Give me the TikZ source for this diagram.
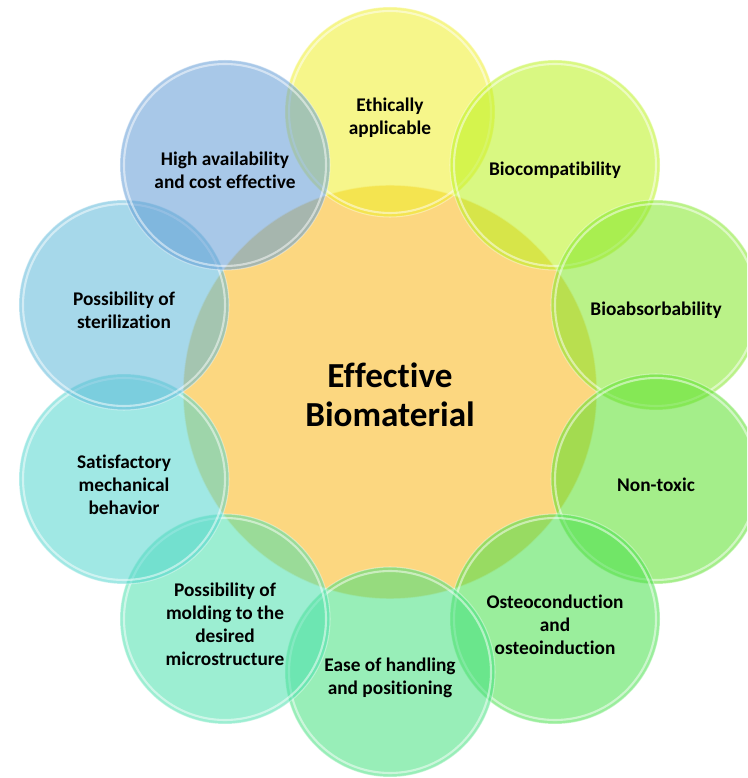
\documentclass[tikz,border=0pt]{standalone}
\usepackage{fontspec}
\setmainfont{Carlito}[Ligatures=CommonOff]

% bubble colours, going round clockwise from the top
\definecolor{core}{RGB}{252,215,128}
\definecolor{ethic}{RGB}{239,239,42}
\definecolor{biocomp}{RGB}{186,242,28}
\definecolor{bioabs}{RGB}{130,231,39}
\definecolor{nontox}{RGB}{90,224,42}
\definecolor{osteo}{RGB}{71,224,75}
\definecolor{handling}{RGB}{68,224,126}
\definecolor{molding}{RGB}{75,224,173}
\definecolor{mech}{RGB}{82,213,206}
\definecolor{steril}{RGB}{93,184,217}
\definecolor{cost}{RGB}{97,155,213}

\tikzset{
  bubble/.style={fill opacity=0.55, draw=white, draw opacity=0.4, line width=0.6pt,
    path picture={\draw[white, opacity=0.5, line width=1.2pt]
      (path picture bounding box.center) circle [radius=101];}},
  bubbletext/.style={text opacity=1, text=black, align=center, yshift=-1.1mm,
    font=\bfseries\fontsize{11}{13}\selectfont},
}

\begin{document}
\begin{tikzpicture}[x=0.2mm,y=0.2mm]
\clip (-390,-386) rectangle (357,392);
\draw[fill=core, draw=white, draw opacity=0.6, line width=0.8pt] (0,0) circle [radius=207]
  node[bubbletext, yshift=0.5mm, font=\bfseries\fontsize{20}{22}\selectfont](core){Effective\\Biomaterial};
\draw[bubble, fill=ethic] (0,280) circle [radius=105] node[bubbletext](ethic){Ethically\\applicable};
\draw[bubble, fill=biocomp] (165,227) circle [radius=105] node[bubbletext](biocomp){Biocompatibility};
\draw[bubble, fill=bioabs] (266,87) circle [radius=105] node[bubbletext](bioabs){Bioabsorbability};
\draw[bubble, fill=nontox] (266,-87) circle [radius=105] node[bubbletext](nontox){Non-toxic};
\draw[bubble, fill=osteo] (165,-227) circle [radius=105] node[bubbletext](osteo){Osteoconduction\\and\\osteoinduction};
\draw[bubble, fill=handling] (0,-280) circle [radius=105] node[bubbletext](handling){Ease of handling\\and positioning};
\draw[bubble, fill=molding] (-165,-227) circle [radius=105] node[bubbletext](molding){Possibility of\\molding to the\\desired\\microstructure};
\draw[bubble, fill=mech] (-266,-87) circle [radius=105] node[bubbletext](mech){Satisfactory\\mechanical\\behavior};
\draw[bubble, fill=steril] (-266,87) circle [radius=105] node[bubbletext](steril){Possibility of\\sterilization};
\draw[bubble, fill=cost] (-165,227) circle [radius=105] node[bubbletext](cost){High availability\\and cost effective};
\end{tikzpicture}
\end{document}
